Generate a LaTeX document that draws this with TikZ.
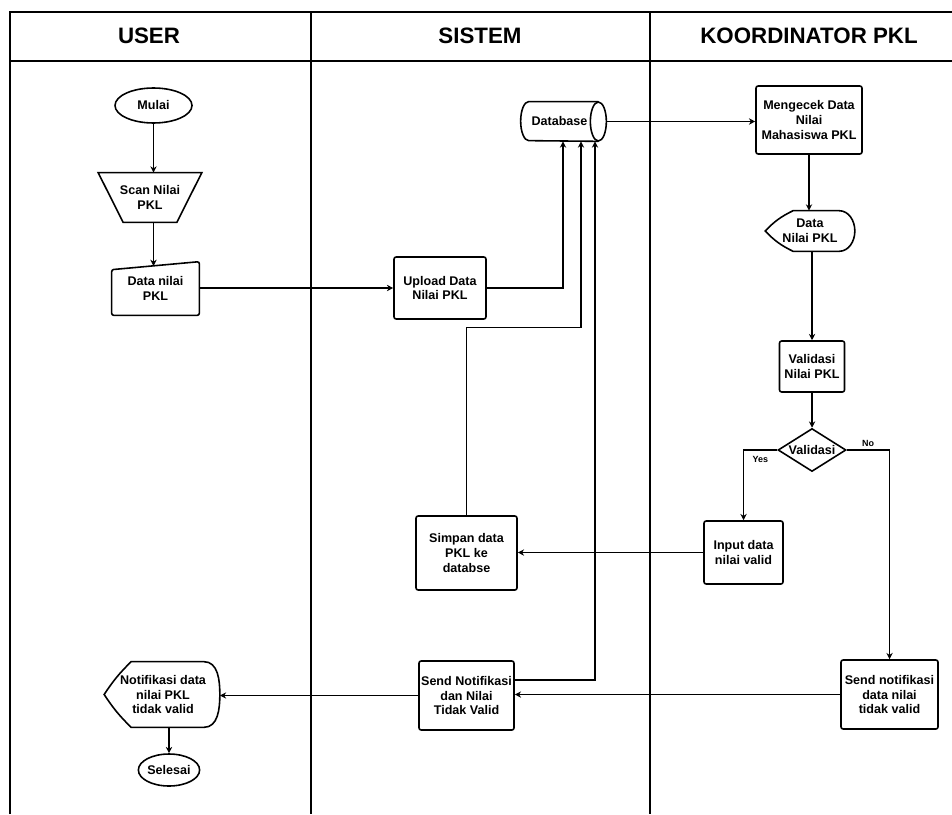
\documentclass[tikz,border=0pt]{standalone}
\usepackage{fontspec}
\setmainfont{Liberation Sans}
\usetikzlibrary{shapes.geometric,arrows.meta}

\tikzset{
  lane/.style={line width=1.1pt},
  head/.style={font=\bfseries\fontsize{12.7}{14}\selectfont},
  box/.style={draw, line width=0.9pt, rounded corners=1.2pt, align=center, inner sep=0pt,
    font=\bfseries\fontsize{7.15}{8.5}\selectfont},
  shapetext/.style={align=center, inner sep=0pt, font=\bfseries\fontsize{7.15}{8.5}\selectfont},
  shapeline/.style={line width=0.9pt},
  terminal/.style={ellipse, draw, line width=0.9pt, inner sep=0pt,
    font=\bfseries\fontsize{7.15}{8.5}\selectfont},
  decision/.style={diamond, draw, line width=0.9pt, aspect=1.58, inner sep=0pt,
    minimum width=1.36cm, minimum height=0.86cm, font=\bfseries\fontsize{7.15}{8.5}\selectfont},
  arr/.style={-{Stealth[length=3.6pt,width=3.6pt]}, line width=0.7pt},
  lbl/.style={font=\bfseries\fontsize{5.1}{6}\selectfont, inner sep=1.5pt},
}

\begin{document}
\begin{tikzpicture}[x=0.02cm,y=-0.02cm]
        \useasboundingbox (0,0) rectangle (952,814);

        % Draw lanes
        \draw[lane] (10,814) -- (10,12) -- (952,12);
        \draw[lane] (10,61) -- (952,61);
        \draw[lane] (311,12) -- (311,814);
        \draw[lane] (650,12) -- (650,814);
        \node[head] (hUser) at (149,36) {USER};
        \node[head] (hSistem) at (480,36) {SISTEM};
        \node[head] (hKoor) at (809,36) {KOORDINATOR PKL};

        % User lane
        \node[terminal, minimum width=1.54cm, minimum height=0.7cm] (mulai) at (153.5,105.5) {Mulai};
        \node[shapetext, minimum width=2.06cm, minimum height=0.98cm] (scan) at (150,197.5) {Scan Nilai\\PKL};
        \draw[shapeline] (scan.north west) -- (scan.north east) -- ([xshift=-0.5cm]scan.south east)
            -- ([xshift=0.5cm]scan.south west) -- cycle;
        \node[shapetext, minimum width=1.74cm, minimum height=1.06cm] (dnilai) at (155.5,288.5) {Data nilai\\PKL};
        \draw[shapeline, rounded corners=1.2pt] ([yshift=-0.16cm]dnilai.north west) -- (dnilai.north east)
            -- (dnilai.south east) -- (dnilai.south west) -- cycle;
        \coordinate (dnTop) at (153.5,266);
        \node[shapetext, minimum width=2.26cm, minimum height=1.3cm] (notif) at (163,694.5) {Notifikasi data\\nilai PKL\\tidak valid};
        \draw[shapeline] ([xshift=-0.04cm]notif.west) to[bend left=6] ([xshift=0.5cm]notif.north west)
            -- ([xshift=-0.32cm]notif.north east) to[out=0,in=90] (notif.east)
            to[out=-90,in=0] ([xshift=-0.32cm]notif.south east)
            -- ([xshift=0.5cm]notif.south west) to[bend left=6] cycle;
        \node[terminal, minimum width=1.2cm, minimum height=0.64cm] (selesai) at (169,770) {Selesai};

        % Sistem lane
        \node[shapetext, minimum width=1.54cm, minimum height=0.78cm] (db) at (559.5,121.5) {Database};
        \draw[shapeline] (db.north east) -- ([xshift=0.16cm]db.north west)
            arc[start angle=90, end angle=270, x radius=0.16cm, y radius=0.39cm] -- (db.south east);
        \draw[shapeline] (db.east) ellipse[x radius=0.16cm, y radius=0.39cm];
        \node[box, minimum width=1.84cm, minimum height=1.24cm] (upload) at (440,288) {Upload Data\\Nilai PKL};
        \node[box, minimum width=2.02cm, minimum height=1.48cm] (simpan) at (466.5,553) {Simpan data\\PKL ke\\databse};
        \node[box, minimum width=1.9cm, minimum height=1.38cm] (kirimA) at (466.5,695.5) {Send Notifikasi\\dan Nilai\\Tidak Valid};

        % Koordinator lane
        \node[box, minimum width=2.12cm, minimum height=1.36cm] (cek) at (809,120) {Mengecek Data\\Nilai\\Mahasiswa PKL};
        \node[shapetext, minimum width=1.78cm, minimum height=0.8cm] (dkoor) at (810,231) {Data\\Nilai PKL};
        \draw[shapeline] (dkoor.west) to[bend left=10] ([xshift=0.56cm]dkoor.north west)
            -- ([xshift=-0.32cm]dkoor.north east) to[out=0,in=90] (dkoor.east)
            to[out=-90,in=0] ([xshift=-0.32cm]dkoor.south east)
            -- ([xshift=0.56cm]dkoor.south west) to[bend left=10] cycle;
        \node[box, minimum width=1.3cm, minimum height=1.02cm] (valnilai) at (812,366.5) {Validasi\\Nilai PKL};
        \node[decision] (valid) at (812,450) {Validasi};
        \node[box, minimum width=1.58cm, minimum height=1.26cm] (input) at (743.5,552.5) {Input data\\nilai valid};
        \node[box, minimum width=1.94cm, minimum height=1.38cm] (kirimB) at (889.5,694.5) {Send notifikasi\\data nilai\\tidak valid};

        % Draw connectors
        \draw[arr] (mulai.south) -- (mulai.south |- scan.north);
        \draw[arr] (mulai.south |- scan.south) -- (dnTop);
        \draw[arr] (dnilai.east |- upload.west) -- (upload.west);
        \draw[arr] (upload.east) -| ([xshift=0.07cm]db.south);
        \draw[arr] (simpan.north) -- ++(0,-188) -| ([xshift=0.43cm]db.south);
        \draw[arr] ([yshift=0.31cm]kirimA.east) -| ([xshift=0.71cm]db.south);
        \draw[arr] ([xshift=0.16cm]db.east) -- (db.east -| cek.west);
        \draw[arr] (cek.south) -- (cek.south |- dkoor.north);
        \draw[arr] (valnilai.north |- dkoor.south) -- (valnilai.north);
        \draw[arr] (valnilai.south) -- (valid.north);
        \draw[arr] (valid.west) -| (input.north) node[lbl, pos=0.25, below, yshift=-2pt] {Yes};
        \draw[arr] (valid.east) -| (kirimB.north) node[lbl, pos=0.25, above] {No};
        \draw[arr] (input.west) -- (input.west -| simpan.east);
        \draw[arr] (kirimB.west) -- (kirimB.west -| kirimA.east);
        \draw[arr] (kirimA.west) -- (kirimA.west -| notif.east);
        \draw[arr] (notif.south -| selesai.north) -- (selesai.north);
\end{tikzpicture}
\end{document}
